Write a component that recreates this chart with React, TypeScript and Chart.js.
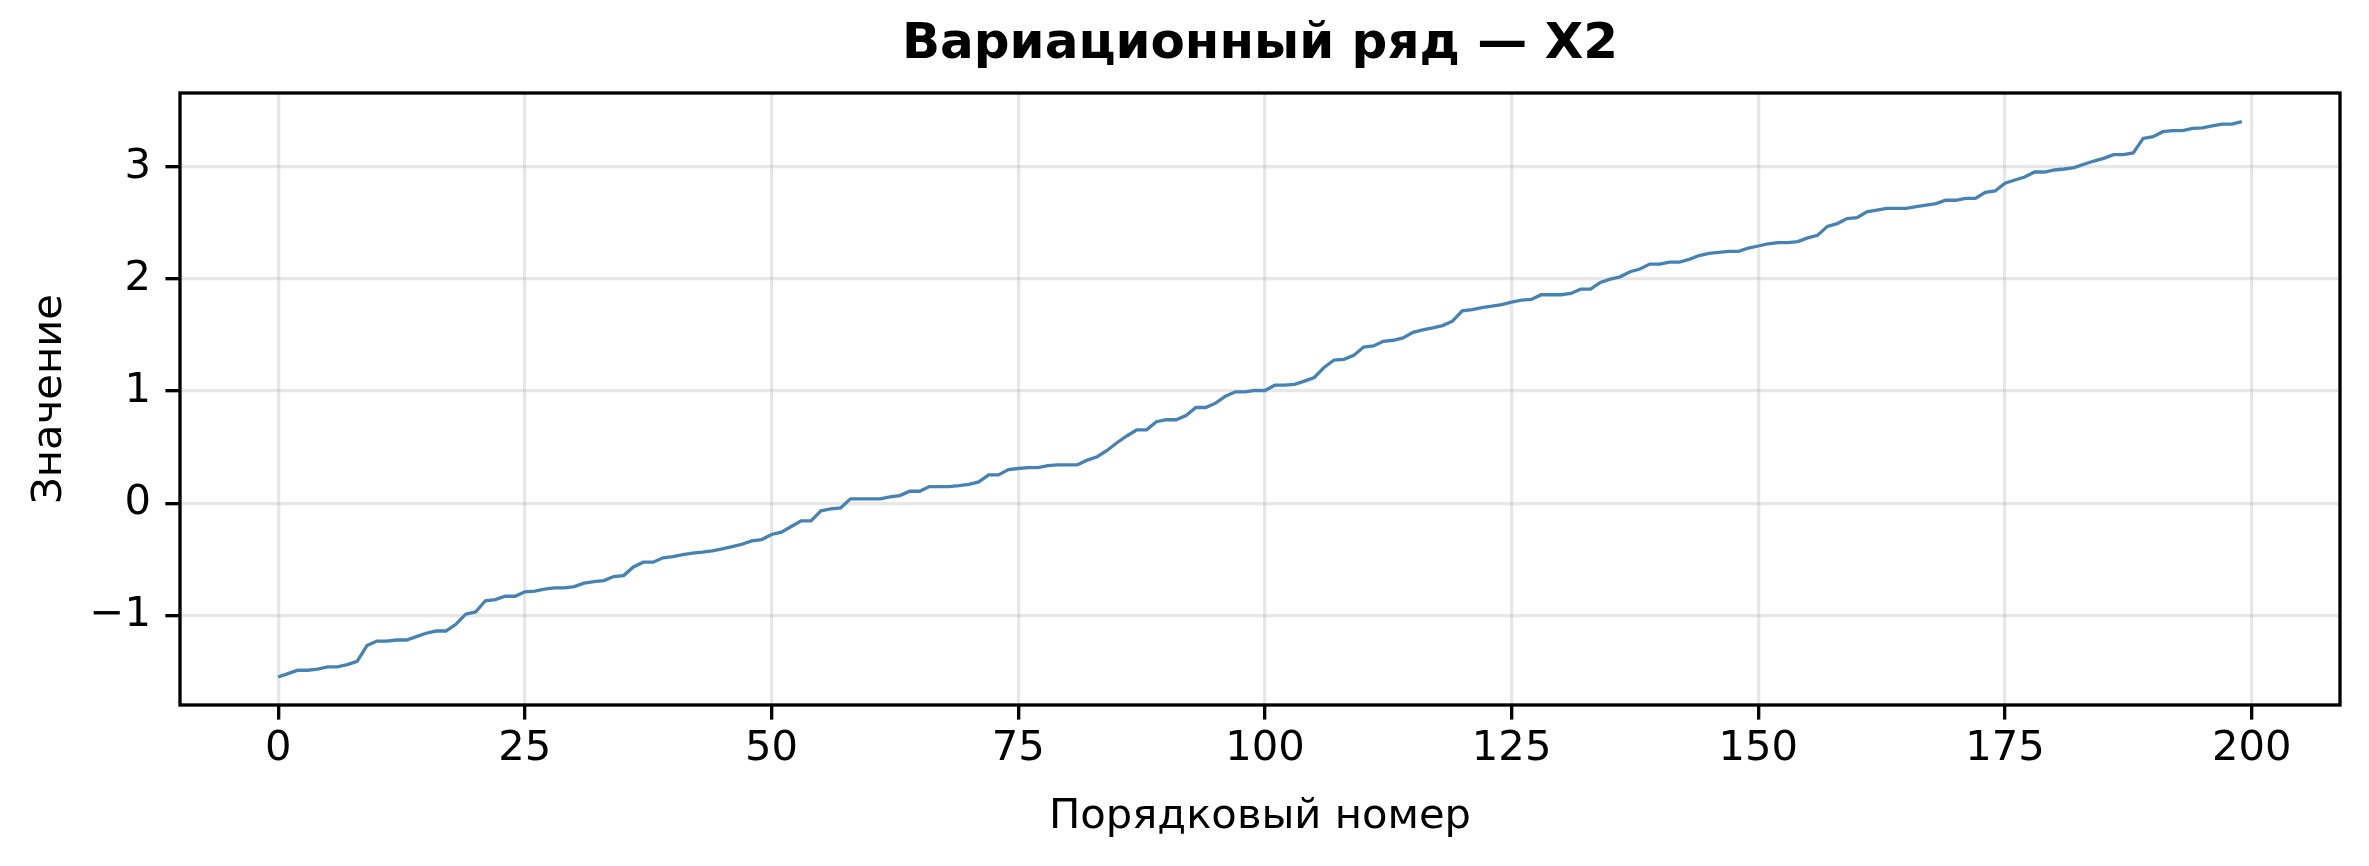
import React, { useEffect, useRef } from "react";
import { Chart, registerables } from "chart.js";

Chart.register(...registerables);

const TITLE = "Вариационный ряд — X2";
const X_LABEL = "Порядковый номер";
const Y_LABEL = "Значение";

const X_TICKS = [0, 25, 50, 75, 100, 125, 150, 175, 200];
const Y_TICKS = [-1, 0, 1, 2, 3];

// Sorted sample values (variation series), index 0..199
const VALUES_A = [
  -1.55, -1.52, -1.49, -1.49, -1.48, -1.46, -1.46, -1.44, -1.41, -1.27,
  -1.23, -1.23, -1.22, -1.22, -1.19, -1.16, -1.14, -1.14, -1.08, -0.99,
  -0.97, -0.87, -0.86, -0.83, -0.83, -0.79, -0.785, -0.767, -0.755, -0.755,
  -0.743, -0.713, -0.7, -0.69, -0.654, -0.645, -0.568, -0.526, -0.526, -0.487,
  -0.476, -0.458, -0.446, -0.437, -0.425, -0.407, -0.387, -0.366, -0.336, -0.324,
];
const VALUES_B = [
  -0.279, -0.258, -0.208, -0.157, -0.157, -0.068, -0.05, -0.042, 0.039, 0.039,
  0.039, 0.039, 0.056, 0.068, 0.107, 0.107, 0.149, 0.149, 0.149, 0.157,
  0.169, 0.19, 0.253, 0.253, 0.3, 0.31, 0.317, 0.317, 0.335, 0.343,
  0.343, 0.343, 0.385, 0.415, 0.471, 0.54, 0.6, 0.655, 0.655, 0.727,
  0.745, 0.745, 0.783, 0.854, 0.854, 0.893, 0.955, 0.994, 0.994, 1.006,
];
const VALUES_C = [
  1.006, 1.053, 1.053, 1.06, 1.09, 1.122, 1.212, 1.278, 1.284, 1.319,
  1.394, 1.403, 1.445, 1.454, 1.475, 1.525, 1.546, 1.564, 1.585, 1.624,
  1.716, 1.728, 1.746, 1.758, 1.773, 1.795, 1.812, 1.818, 1.86, 1.86,
  1.86, 1.872, 1.91, 1.91, 1.97, 2.0, 2.02, 2.065, 2.09, 2.134,
  2.134, 2.152, 2.152, 2.176, 2.21, 2.23, 2.238, 2.247, 2.247, 2.277,
];
const VALUES_D = [
  2.295, 2.315, 2.326, 2.326, 2.335, 2.367, 2.39, 2.47, 2.495, 2.54,
  2.548, 2.6, 2.614, 2.63, 2.63, 2.63, 2.646, 2.66, 2.673, 2.703,
  2.703, 2.72, 2.72, 2.774, 2.786, 2.855, 2.884, 2.91, 2.955, 2.955,
  2.973, 2.982, 2.994, 3.024, 3.053, 3.077, 3.11, 3.11, 3.125, 3.255,
  3.27, 3.315, 3.324, 3.324, 3.345, 3.348, 3.366, 3.383, 3.383, 3.404,
];

const X_MIN = -9.95;
const X_MAX = 208.95;
const Y_MIN = -1.8;
const Y_MAX = 3.66;

const FONT = '"DejaVu Sans", sans-serif';

const framePlugin = {
  id: "mplFrame",
  beforeDraw(chart: any) {
    const { ctx, width, height } = chart;
    ctx.save();
    ctx.fillStyle = "#ffffff";
    ctx.fillRect(0, 0, width, height);
    ctx.restore();
  },
  afterDraw(chart: any) {
    const { ctx, chartArea } = chart;
    const { left, top, right, bottom } = chartArea;
    ctx.save();
    ctx.strokeStyle = "#000000";
    ctx.lineWidth = 3.33;
    ctx.strokeRect(left, top, right - left, bottom - top);
    ctx.fillStyle = "#000000";
    ctx.font = `bold 50px ${FONT}`;
    ctx.textAlign = "center";
    ctx.textBaseline = "alphabetic";
    ctx.fillText(TITLE, (left + right) / 2, 58);
    ctx.restore();
  },
};

export default function App() {
  const canvasRef = useRef<HTMLCanvasElement | null>(null);

  useEffect(() => {
    document.body.style.margin = "0";
    const canvas = canvasRef.current;
    if (!canvas) return;
    const values = [...VALUES_A, ...VALUES_B, ...VALUES_C, ...VALUES_D];
    const points = values.map((v, i) => ({ x: i, y: v }));

    const chart = new Chart(canvas, {
      type: "line",
      data: {
        datasets: [
          {
            data: points,
            borderColor: "#4682b4",
            borderWidth: 3.3,
            pointRadius: 0,
            tension: 0,
            fill: false,
          },
        ],
      },
      plugins: [framePlugin],
      options: {
        animation: false,
        responsive: false,
        devicePixelRatio: 1,
        layout: { padding: { top: 93, right: 29, left: 0, bottom: 0 } },
        plugins: {
          legend: { display: false },
          title: { display: false },
          tooltip: { enabled: false },
        },
        scales: {
          x: {
            type: "linear",
            min: X_MIN,
            max: X_MAX,
            afterFit: (scale: any) => {
              scale.height = 161;
            },
            afterBuildTicks: (scale: any) => {
              scale.ticks = X_TICKS.map((v) => ({ value: v }));
            },
            grid: {
              color: "rgba(176,176,176,0.3)",
              lineWidth: 3.33,
              tickLength: 14.6,
              tickColor: "#000000",
              tickWidth: 3.33,
            },
            border: { display: false },
            ticks: {
              color: "#000000",
              font: { family: FONT, size: 41.7 },
              padding: 5,
              maxRotation: 0,
              autoSkip: false,
              includeBounds: false,
            },
            title: {
              display: true,
              text: X_LABEL,
              color: "#000000",
              font: { family: FONT, size: 41.7 },
              padding: { top: 0, bottom: 24 },
            },
          },
          y: {
            type: "linear",
            min: Y_MIN,
            max: Y_MAX,
            afterFit: (scale: any) => {
              scale.width = 180;
            },
            afterBuildTicks: (scale: any) => {
              scale.ticks = Y_TICKS.map((v) => ({ value: v }));
            },
            grid: {
              color: "rgba(176,176,176,0.3)",
              lineWidth: 3.33,
              tickLength: 14.6,
              tickColor: "#000000",
              tickWidth: 3.33,
            },
            border: { display: false },
            ticks: {
              color: "#000000",
              font: { family: FONT, size: 41.7 },
              padding: 14.4,
              autoSkip: false,
              includeBounds: false,
              callback: (v: any) => String(v).replace("-", "\u2212"),
            },
            title: {
              display: true,
              text: Y_LABEL,
              color: "#000000",
              font: { family: FONT, size: 41.7 },
              padding: { top: 25, bottom: 0 },
            },
          },
        },
      },
    });
    return () => chart.destroy();
  }, []);

  return (
    <div style={{ position: "absolute", left: 0, top: 0, width: 2369, height: 866 }}>
      <canvas ref={canvasRef} width={2369} height={866} style={{ width: 2369, height: 866, display: "block" }} />
    </div>
  );
}
